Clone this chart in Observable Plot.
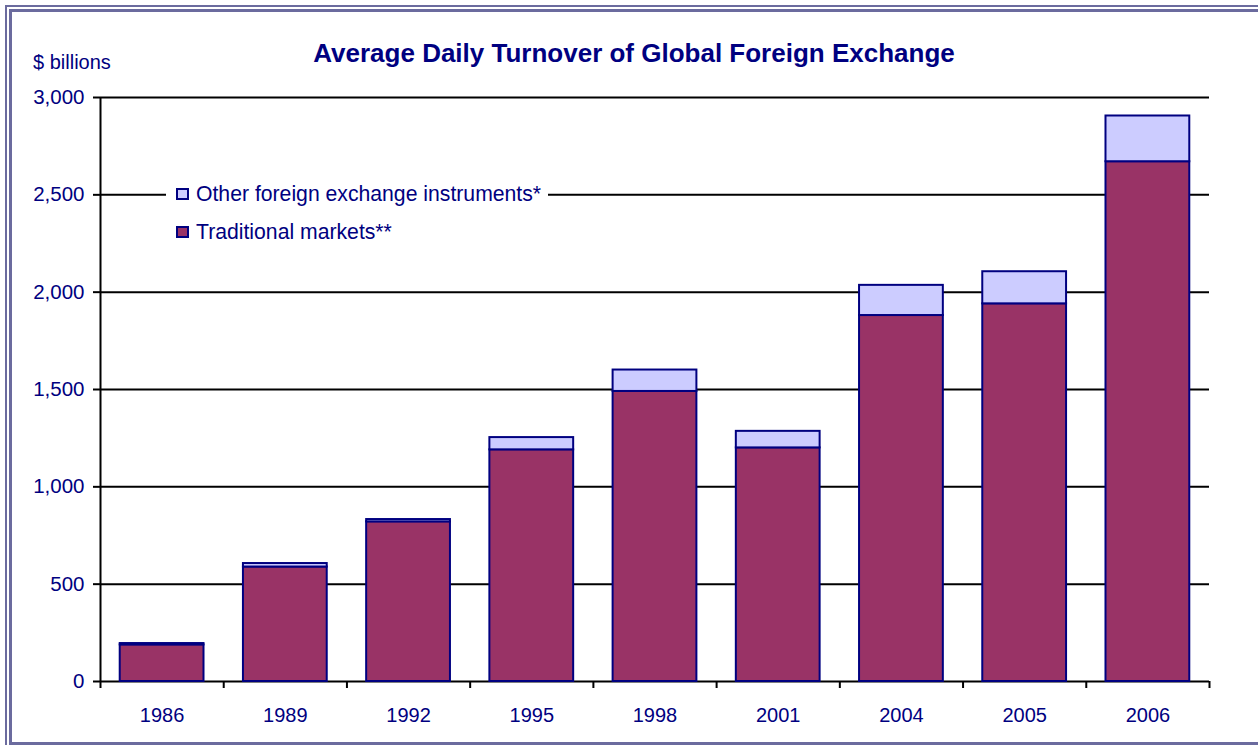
<!DOCTYPE html>
<html>
<head>
<meta charset="utf-8">
<script src="https://cdn.jsdelivr.net/npm/d3@7"></script>
<script src="https://cdn.jsdelivr.net/npm/@observablehq/plot@0.6"></script>
<style>
  html, body { margin: 0; padding: 0; background: #fff; }
  #page { position: relative; width: 1258px; height: 745px; overflow: hidden; font-family: "Liberation Sans", Arial, sans-serif; color: #000080; }
  .b1 { position: absolute; left: 5px; top: 5px; width: 1300px; height: 800px; border: 2px solid #6B6B9E; box-sizing: border-box; }
  .b2 { position: absolute; left: 9px; top: 9px; width: 1300px; height: 736px; border: 3px solid #6B6B9E; box-sizing: border-box; }
  #title { position: absolute; left: 0; width: 1268px; top: 38px; text-align: center; font-weight: bold; font-size: 26px; line-height: 30px; }
  #unit { position: absolute; left: 33px; top: 50px; font-size: 20px; line-height: 24px; }
  #chart { position: absolute; left: 0; top: 70px; }
  #legend { position: absolute; left: 166px; top: 173px; width: 382px; background: #fff; padding: 2px 0 4px 10px; box-sizing: border-box; font-size: 21.2px; }
  .row { display: flex; align-items: center; height: 38px; }
  .sw { width: 9px; height: 8px; border: 2px solid #000080; margin-right: 7px; }
</style>
</head>
<body>
<div id="page">
  <div class="b1"></div>
  <div class="b2"></div>
  <div id="title">Average Daily Turnover of Global Foreign Exchange</div>
  <div id="unit">$ billions</div>
  <div id="chart"></div>
  <div id="legend"></div>
</div>
<script>
const years = ["1986", "1989", "1992", "1995", "1998", "2001", "2004", "2005", "2006"];
const traditional = [188, 588, 820, 1190, 1490, 1200, 1880, 1940, 2670];
const other = [7, 18, 12, 63, 110, 85, 155, 165, 235];
const seriesNames = ["Traditional markets**", "Other foreign exchange instruments*"];
const seriesColors = ["#993366", "#CCCCFF"];
const yTicks = [0, 500, 1000, 1500, 2000, 2500, 3000];

const rows = [];
years.forEach((y, i) => {
  rows.push({i, year: y, series: seriesNames[0], value: traditional[i]});
  rows.push({i, year: y, series: seriesNames[1], value: other[i]});
});

const navy = "#000080";
const chart = Plot.plot({
  width: 1258,
  height: 661,
  marginTop: 27,
  marginBottom: 50,
  marginLeft: 100,
  marginRight: 49,
  style: { fontFamily: "'Liberation Sans', Arial, sans-serif", fontSize: "20px", background: "transparent" },
  x: { type: "linear", domain: [0, years.length], axis: null },
  y: { domain: [0, 3000], axis: null },
  color: { domain: seriesNames, range: seriesColors },
  marks: [
    Plot.ruleY(yTicks, { stroke: "black", strokeWidth: 2 }),
    Plot.rectY(rows, Plot.stackY({
      x1: d => d.i + 0.16,
      x2: d => d.i + 0.84,
      y: "value",
      z: "series",
      order: seriesNames,
      fill: "series",
      stroke: navy,
      strokeWidth: 2
    })),
    Plot.ruleX([0], { stroke: "black", strokeWidth: 2 }),
    Plot.axisY({ ticks: yTicks, label: null, tickSize: 7, tickPadding: 9, stroke: "black", strokeWidth: 2, fill: navy, fontSize: 20.5, tickFormat: d => d3.format(",")(d) }),
    Plot.axisX({ ticks: d3.range(years.length + 1), label: null, tickSize: 7, stroke: "black", strokeWidth: 2, tickFormat: () => "" }),
    Plot.axisX({ ticks: years.map((_, i) => i + 0.5), label: null, tickSize: 0, tickPadding: 26, fill: navy, fontSize: 20, tickFormat: d => years[Math.floor(d)] })
  ]
});
document.getElementById("chart").appendChild(chart);

const legend = document.getElementById("legend");
[1, 0].forEach(k => {
  const r = document.createElement("div");
  r.className = "row";
  const s = document.createElement("div");
  s.className = "sw";
  s.style.background = seriesColors[k];
  const t = document.createElement("span");
  t.textContent = seriesNames[k];
  r.appendChild(s); r.appendChild(t);
  legend.appendChild(r);
});
</script>
</body>
</html>
